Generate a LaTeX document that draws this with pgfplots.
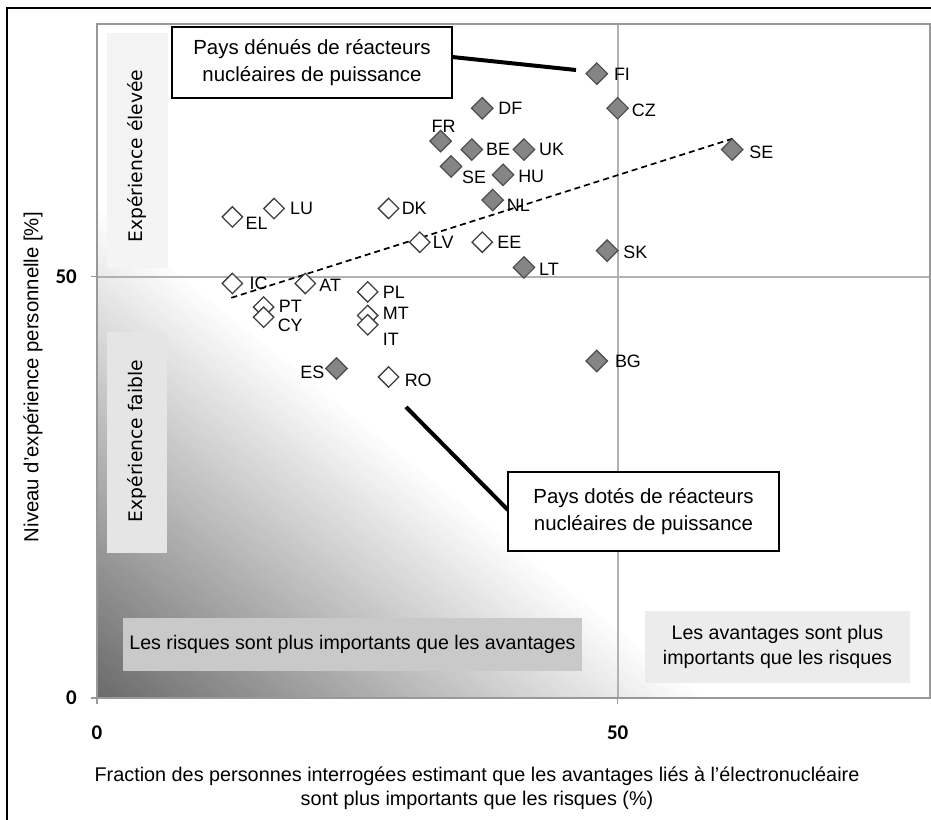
\documentclass[border=0pt]{standalone}
\usepackage{fontspec}
\setmainfont{Liberation Sans}
\newfontfamily\tickfont{Carlito}
\newfontfamily\dvs{DejaVu Sans}
\usepackage{pgfplots}
\pgfplotsset{compat=1.18}
\usepackage{pgfplotstable}

\definecolor{fillg}{gray}{0.52}
\definecolor{edgeg}{gray}{0.30}
\definecolor{openedge}{gray}{0.25}
\definecolor{boxA}{gray}{0.955}
\definecolor{boxB}{gray}{0.90}
\definecolor{boxC}{gray}{0.79}
\definecolor{boxD}{gray}{0.925}
\tikzset{lab/.style={inner sep=0pt, text=black, font=\fontsize{18}{20}\selectfont}}

% countries with nuclear power reactors
\pgfplotstableread{
x y lab
48 74.1 FI
50 70 CZ
37 70 DF
33 66.1 FR
36 65.1 BE
41 65.1 UK
34 63.1 SE
39 62.1 HU
38 59.1 NL
61 65.1 SE
49 53.1 SK
41 51.1 LT
48 40 BG
23 39.1 ES
}\filledtab

% countries without nuclear power reactors
\pgfplotstableread{
x y lab
13 57.1 EL
17 58.1 LU
28 58.1 DK
31 54.1 LV
37 54.1 EE
13 49.2 IC
20 49.2 AT
26 48.2 PL
16 46.4 PT
16 45.2 CY
26 45.4 MT
26 44.3 IT
28 38.1 RO
}\opentab

\begin{document}
\begin{tikzpicture}
\path[use as bounding box] (0,0) rectangle (931bp,820bp);
\fill[white] (0,0) rectangle (931bp,820bp);
\begin{axis}[
  at={(97bp,122bp)}, anchor=south west,
  scale only axis, width=833bp, height=674bp,
  xmin=0, xmax=80, ymin=0, ymax=80,
  axis on top, clip=false,
  axis line style={draw=gray!80, line width=1.3bp},
  xtick={0,50}, ytick={0,50},
  xticklabels={0,50}, yticklabels={0,50},
  tick align=outside, tick pos=left,
  major tick length=6bp,
  tick style={draw=gray!80, line width=1.2bp},
  xticklabel style={font=\tickfont\bfseries\fontsize{21}{21}\selectfont, inner sep=0pt, anchor=north, yshift=-22bp},
  yticklabel style={font=\tickfont\bfseries\fontsize{21}{21}\selectfont, inner sep=0pt, anchor=east, xshift=-14bp},
  xlabel={Fraction des personnes interrogées estimant que les avantages liés à l’électronucléaire\\sont plus importants que les risques (\%)},
  xlabel style={at={(axis description cs:0.4562,-0.1335)}, anchor=center, align=center, font=\fontsize{19.9}{24}\selectfont},
  ylabel={Niveau d’expérience personnelle [\%]},
  ylabel style={at={(axis description cs:-0.0768,0.476)}, anchor=center, font=\fontsize{20.4}{24}\selectfont},
]
\pgfplotsinvokeforeach{1,...,58}{%
  \fill[black!#1] (axis cs:0,0) -- (axis cs:0,{59-#1}) -- (axis cs:{59-#1},0) -- cycle;
}
\draw[gray!60, line width=2bp] (axis cs:50,0) -- (axis cs:50,80);
\draw[gray!60, line width=2bp] (axis cs:0,50) -- (axis cs:80,50);

\addplot[black, line width=1.7bp, dash pattern=on 6bp off 4bp, no marks] coordinates {(12.9,47.5) (61.07,66.4)};

\addplot[only marks, mark=square*, mark size=7.6bp,
  mark options={rotate=45, fill=fillg, draw=edgeg, line width=1.2bp, solid}]
  table[x=x, y=y] {\filledtab};

\addplot[only marks, mark=square*, mark size=7.2bp,
  mark options={rotate=45, fill=white, draw=openedge, line width=1.3bp, solid}]
  table[x=x, y=y] {\opentab};

% labels
\node[lab, anchor=west, xshift=17bp, yshift=-1bp] at (axis cs:48,74.1) {FI};
\node[lab, anchor=west, xshift=14bp, yshift=-2bp] at (axis cs:50,70) {CZ};
\node[lab, anchor=west, xshift=16bp] at (axis cs:37,70) {DF};
\node[lab, anchor=south, xshift=3bp, yshift=8bp] at (axis cs:33,66.1) {FR};
\node[lab, anchor=west, xshift=14bp] at (axis cs:36,65.1) {BE};
\node[lab, anchor=west, xshift=15bp] at (axis cs:41,65.1) {UK};
\node[lab, anchor=west, xshift=11bp, yshift=-11bp] at (axis cs:34,63.1) {SE};
\node[lab, anchor=west, xshift=15bp, yshift=-2bp] at (axis cs:39,62.1) {HU};
\node[lab, anchor=west, xshift=14bp, yshift=-5bp] at (axis cs:38,59.1) {NL};
\node[lab, anchor=west, xshift=17bp, yshift=-3bp] at (axis cs:61,65.1) {SE};
\node[lab, anchor=west, xshift=16bp, yshift=-2bp] at (axis cs:49,53.1) {SK};
\node[lab, anchor=west, xshift=15bp, yshift=-2bp] at (axis cs:41,51.1) {LT};
\node[lab, anchor=west, xshift=18bp] at (axis cs:48,40) {BG};
\node[lab, anchor=east, xshift=-12bp, yshift=-4bp] at (axis cs:23,39.1) {ES};
\node[lab, anchor=west, xshift=13bp, yshift=-6bp] at (axis cs:13,57.1) {EL};
\node[lab, anchor=west, xshift=16bp] at (axis cs:17,58.1) {LU};
\node[lab, anchor=west, xshift=13bp] at (axis cs:28,58.1) {DK};
\node[lab, anchor=west, xshift=13bp] at (axis cs:31,54.1) {LV};
\node[lab, anchor=west, xshift=15bp] at (axis cs:37,54.1) {EE};
\node[lab, anchor=west, xshift=17bp] at (axis cs:13,49.2) {IC};
\node[lab, anchor=west, xshift=14bp, yshift=-2bp] at (axis cs:20,49.2) {AT};
\node[lab, anchor=west, xshift=15bp] at (axis cs:26,48.2) {PL};
\node[lab, anchor=west, xshift=15bp, yshift=1bp] at (axis cs:16,46.4) {PT};
\node[lab, anchor=west, xshift=14bp, yshift=-8bp] at (axis cs:16,45.2) {CY};
\node[lab, anchor=west, xshift=15bp, yshift=2bp] at (axis cs:26,45.4) {MT};
\node[lab, anchor=west, xshift=15bp, yshift=-15bp] at (axis cs:26,44.3) {IT};
\node[lab, anchor=west, xshift=16bp, yshift=-3bp] at (axis cs:28,38.1) {RO};
\end{axis}

\fill[boxA] (107bp,552bp) rectangle (168bp,787bp);
\node[rotate=90, inner sep=0pt, font=\dvs\fontsize{18.8}{20}\selectfont] at (137bp,664bp) {Expérience élevée};
\fill[boxB] (107bp,267bp) rectangle (167bp,488bp);
\node[rotate=90, inner sep=0pt, font=\dvs\fontsize{18.8}{20}\selectfont] at (137bp,379bp) {Expérience faible};

\fill[boxC] (123bp,149bp) rectangle (582bp,202bp);
\node[inner sep=0pt, font=\fontsize{19.7}{24}\selectfont] at (352.5bp,175.5bp) {Les risques sont plus importants que les avantages};
\fill[boxD] (645bp,137bp) rectangle (910bp,209bp);
\node[inner sep=0pt, align=center, font=\fontsize{19.7}{25}\selectfont] at (777.5bp,173bp) {Les avantages sont plus\\importants que les risques};

\draw[line width=4bp] (452bp,763bp) -- (576bp,750bp);
\draw[line width=4bp] (406bp,413bp) -- (508bp,310bp);
\draw[fill=white, line width=1.5bp] (172bp,722bp) rectangle (452bp,793bp);
\node[inner sep=0pt, align=center, font=\fontsize{20.5}{27}\selectfont] at (312bp,757.5bp) {Pays dénués de réacteurs\\nucléaires de puissance};
\draw[fill=white, line width=1.5bp] (508bp,269bp) rectangle (779bp,348bp);
\node[inner sep=0pt, align=center, font=\fontsize{20.5}{27}\selectfont] at (643.5bp,308.5bp) {Pays dotés de réacteurs\\nucléaires de puissance};

\draw[line width=1.5bp] (7bp,-5bp) -- (7bp,812bp) -- (940bp,812bp);
\end{tikzpicture}
\end{document}
